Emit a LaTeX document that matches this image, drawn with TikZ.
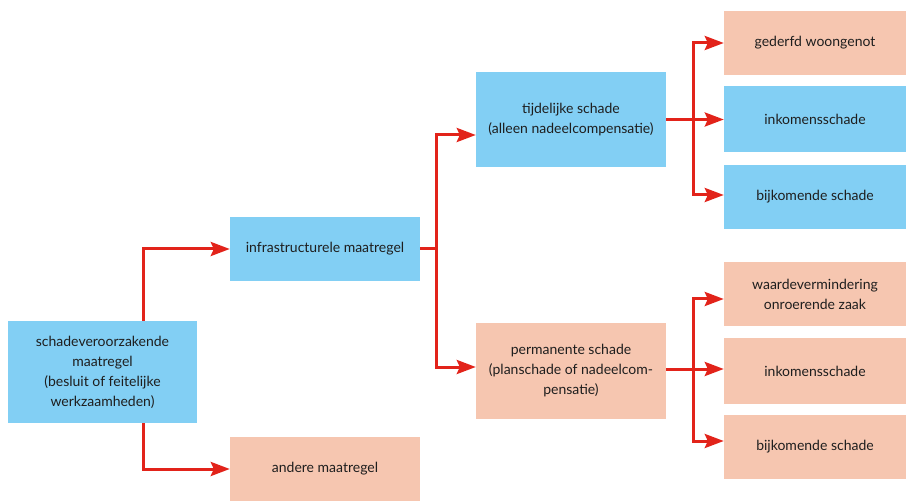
\documentclass[tikz,border=0pt]{standalone}
\usepackage{fontspec}
\setmainfont{Lato}
\usetikzlibrary{arrows.meta}
\definecolor{boxblue}{HTML}{82CFF4}
\definecolor{boxpeach}{HTML}{F6C6B0}
\definecolor{linered}{HTML}{E2231A}
\definecolor{txt}{HTML}{1E1E1E}
\begin{document}
\begin{tikzpicture}[x=1bp,y=-1bp,
  box/.style={rectangle, inner sep=0pt, align=center, text=txt,
    font=\fontsize{14bp}{20bp}\selectfont},
  bluebox/.style={box, fill=boxblue},
  peachbox/.style={box, fill=boxpeach},
  conn/.style={draw=linered, line width=3bp, line join=miter},
  arr/.style={conn, -{Stealth[length=19bp,width=14bp,inset=3bp]}}
]
\useasboundingbox (0,0) rectangle (906,501);
\node[bluebox, minimum width=189bp, minimum height=102bp] (A) at (102.5,372) {schadeveroorzakende\\maatregel\\(besluit of feitelijke\\werkzaamheden)};
\node[bluebox, minimum width=190bp, minimum height=64bp] (B) at (325,249) {infrastructurele maatregel};
\node[peachbox, minimum width=190bp, minimum height=64bp] (C) at (325,469) {andere maatregel};
\node[bluebox, minimum width=190bp, minimum height=95bp] (D) at (571,119.5) {tijdelijke schade\\(alleen nadeelcompensatie)};
\node[peachbox, minimum width=190bp, minimum height=96bp] (E) at (571,371) {permanente schade\\(planschade of nadeelcom-\\pensatie)};
\node[peachbox, minimum width=182bp, minimum height=64bp] (F1) at (815,43) {gederfd woongenot};
\node[bluebox, minimum width=182bp, minimum height=66bp] (F2) at (815,119) {inkomensschade};
\node[bluebox, minimum width=182bp, minimum height=64bp] (F3) at (815,197) {bijkomende schade};
\node[peachbox, minimum width=182bp, minimum height=64bp] (G1) at (815,294) {waardevermindering\\onroerende zaak};
\node[peachbox, minimum width=182bp, minimum height=66bp] (G2) at (815,371) {inkomensschade};
\node[peachbox, minimum width=182bp, minimum height=64bp] (G3) at (815,447) {bijkomende schade};

\coordinate (j1) at (436,249);
\coordinate (j2) at (693,119.5);
\coordinate (j3) at (693,369);

\draw[arr] ([xshift=40.5bp]A.north) |- (B.west);
\draw[arr] ([xshift=40.5bp]A.south) |- (C.west);

\draw[conn] (B.east) -- (j1);
\draw[arr] (j1) |- ([yshift=-15.5bp]D.west);
\draw[arr] (j1) |- ([yshift=4bp]E.west);

\draw[arr] (D.east) -- (D.east -| F2.west);
\draw[arr] (j2) |- (F1.west);
\draw[arr] (j2) |- ([yshift=2bp]F3.west);

\draw[arr] ([yshift=2bp]E.east) -- ([yshift=2bp]G2.west);
\draw[arr] (j3) |- ([yshift=-5bp]G1.west);
\draw[arr] (j3) |- ([yshift=6bp]G3.west);
\end{tikzpicture}
\end{document}
